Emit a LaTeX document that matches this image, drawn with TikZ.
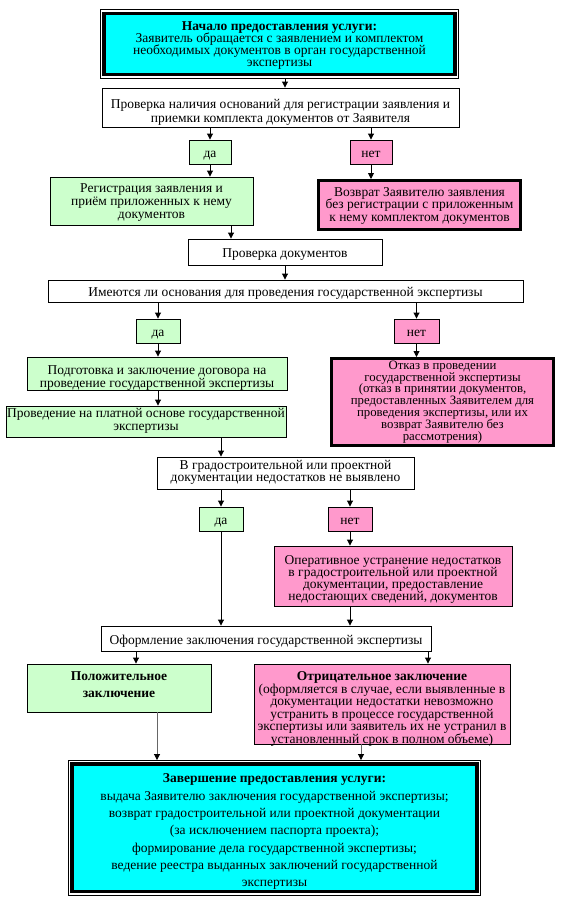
\documentclass[tikz,border=0pt]{standalone}
\usepackage{fontspec}
\setmainfont{Liberation Serif}
\usetikzlibrary{arrows.meta}
\definecolor{dagreen}{HTML}{CCFFCC}
\definecolor{netpink}{HTML}{FF99CC}
\definecolor{uslcyan}{HTML}{00FFFF}
\newcommand{\bfs}{\fontsize{13.5}{13}\selectfont}
% #1 - nizhnyaya bazovaya liniya nizhe centra, #2 - mezhstrochnyj interval
\newcommand{\tx}[3]{\raisebox{-#1pt}[0pt][0pt]{\vbox{\baselineskip=#2pt\lineskiplimit=-20pt\let\\\cr\halign{\hfil##\hfil\cr#3\crcr}}}}

\tikzset{
  blok/.style={draw, line width=0.9pt, fill=white, inner sep=0pt, font=\bfs},
  dablok/.style={blok, fill=dagreen},
  netblok/.style={blok, fill=netpink},
  gruby/.style={line width=3pt},
  usluga/.style={blok, fill=uslcyan, line width=3.4pt, outer sep=3.9pt},
  ramka/.style={line width=0.9pt},
  str/.style={-{Triangle[width=6pt,length=6pt]}, line width=0.9pt},
  strs/.style={-{Triangle[width=6pt,length=6pt,color=black]}, line width=0.9pt, draw=black!60},
}

\begin{document}
\begin{tikzpicture}[x=1pt,y=-1pt]
\useasboundingbox (0,0) rectangle (564,907);

%bloki
\node[usluga, minimum width=351pt, minimum height=61.5pt] (start) at (279.5,44)
  {\tx{23}{12.2}{\textbf{Начало предоставления услуги:}\\Заявитель обращается с заявлением и комплектом\\необходимых документов в орган государственной\\экспертизы}};
\draw[ramka] (start.north west) rectangle (start.south east);

\node[blok, minimum width=357pt, minimum height=39pt] (check1) at (280.5,107.5)
  {\tx{14.5}{13.3}{Проверка наличия оснований для регистрации заявления и\\приемки комплекта документов от Заявителя}};
\node[dablok, minimum width=42pt, minimum height=24pt] (da1) at (210,152) {\tx{5.5}{13}{да}};
\node[netblok, minimum width=42pt, minimum height=24pt] (net1) at (371,152) {\tx{5.5}{13}{нет}};
\node[dablok, minimum width=203pt, minimum height=48pt] (reg) at (151.5,201)
  {\tx{17}{12.7}{Регистрация заявления и\\приём приложенных к нему\\документов}};
\node[netblok, gruby, minimum width=202pt, minimum height=49pt] (vozvrat) at (419.5,205)
  {\tx{16}{12.5}{Возврат Заявителю заявления\\без регистрации с приложенным\\к нему комплектом документов}};

\node[blok, minimum width=194pt, minimum height=26pt] (docs) at (285,252) {\tx{5.5}{13}{Проверка документов}};
\node[blok, minimum width=475pt, minimum height=22pt] (osnov) at (285.5,291)
  {\tx{5.5}{13}{Имеются ли основания для проведения государственной экспертизы}};
\node[dablok, minimum width=44pt, minimum height=24pt] (da2) at (158,331) {\tx{5.5}{13}{да}};
\node[netblok, minimum width=45pt, minimum height=24pt] (net2) at (416.5,331) {\tx{5.5}{13}{нет}};
\node[dablok, minimum width=260pt, minimum height=33pt] (dogovor) at (157,373.5)
  {\tx{13.5}{12.3}{Подготовка и заключение договора на\\проведение государственной экспертизы}};
\node[dablok, minimum width=280pt, minimum height=31pt] (platno) at (146,421.5)
  {\tx{9}{13}{Проведение на платной основе государственной\\экспертизы}};
\node[netblok, gruby, minimum width=222pt, minimum height=87pt, font=\fontsize{12.8}{12}\selectfont] (otkaz) at (442.5,402)
  {\tx{38}{11.8}{Отказ в проведении\\государственной экспертизы\\(отказ в принятии документов,\\предоставленных Заявителем для\\проведения экспертизы, или их\\возврат Заявителю без\\рассмотрения)}};

\node[blok, minimum width=257pt, minimum height=32pt] (nedost) at (285.5,473)
  {\tx{8.5}{12}{В градостроительной или проектной\\документации недостатков не выявлено}};
\node[dablok, minimum width=44pt, minimum height=24pt] (da3) at (221,519) {\tx{5.5}{13}{да}};
\node[netblok, minimum width=44pt, minimum height=24pt] (net3) at (350,519) {\tx{5.5}{13}{нет}};
\node[netblok, minimum width=238pt, minimum height=60pt] (ustran) at (393,576)
  {\tx{24}{12}{Оперативное устранение недостатков\\в градостроительной или проектной\\документации, предоставление\\недостающих сведений, документов}};

\node[blok, minimum width=330pt, minimum height=25pt] (oform) at (266,638.5)
  {\tx{5.5}{13}{Оформление заключения государственной экспертизы}};
\node[dablok, minimum width=184pt, minimum height=48pt] (polozh) at (119,688)
  {\tx{9.5}{17}{\textbf{Положительное}\\\textbf{заключение}}};
\node[netblok, minimum width=256pt, minimum height=80pt] (otric) at (382,704)
  {\tx{39.5}{12.6}{\textbf{Отрицательное заключение}\\(оформляется в случае, если выявленные в\\документации недостатки невозможно\\устранить в процессе государственной\\экспертизы или заявитель их не устранил в\\установленный срок в полном объеме)}};

\node[usluga, minimum width=405pt, minimum height=127.5pt] (konec) at (274.5,827.7)
  {\tx{59}{17.3}{\textbf{Завершение предоставления услуги:}\\выдача Заявителю заключения государственной экспертизы;\\возврат градостроительной или проектной документации\\(за исключением паспорта проекта);\\формирование дела государственной экспертизы;\\ведение реестра выданных заключений государственной\\экспертизы}};
\draw[ramka] (konec.north west) rectangle (konec.south east);

%strelki
\draw[str] (start.south -| 285,0) -- (check1.north -| 285,0);
\draw[str] (check1.south -| da1.north) -- (da1.north);
\draw[str] (check1.south -| net1.north) -- (net1.north);
\draw[str] (da1.south) -- (da1.south |- reg.north);
\draw[str] (net1.south) -- (net1.south |- vozvrat.north);
\draw[str] (reg.south -| 231,0) -- (docs.north -| 231,0);
\draw[str] (docs.south -| 285,0) -- (osnov.north -| 285,0);
\draw[str] (osnov.south -| da2.north) -- (da2.north);
\draw[str] (osnov.south -| net2.north) -- (net2.north);
\draw[str] (da2.south) -- (da2.south |- dogovor.north);
\draw[str] (net2.south) -- (net2.south |- otkaz.north);
\draw[str] (dogovor.south -| da2.south) -- (platno.north -| da2.south);
\draw[str] (platno.south -| da3.north) -- (nedost.north -| da3.north);
\draw[str] (nedost.south -| da3.north) -- (da3.north);
\draw[str] (nedost.south -| net3.north) -- (net3.north);
\draw[str] (net3.south) -- (net3.south |- ustran.north);
\draw[str] (da3.south) -- (da3.south |- oform.north);
\draw[str] (ustran.south -| net3.south) -- (oform.north -| net3.south);
\draw[str] (oform.south -| 136,0) -- (polozh.north -| 136,0);
\draw[str] (oform.south -| 428,0) -- (otric.north -| 428,0);
\draw[strs] (polozh.south -| 157,0) -- (konec.north -| 157,0);
\draw[strs] (otric.south -| 361,0) -- (konec.north -| 361,0);

%koniec
\end{tikzpicture}
\end{document}
